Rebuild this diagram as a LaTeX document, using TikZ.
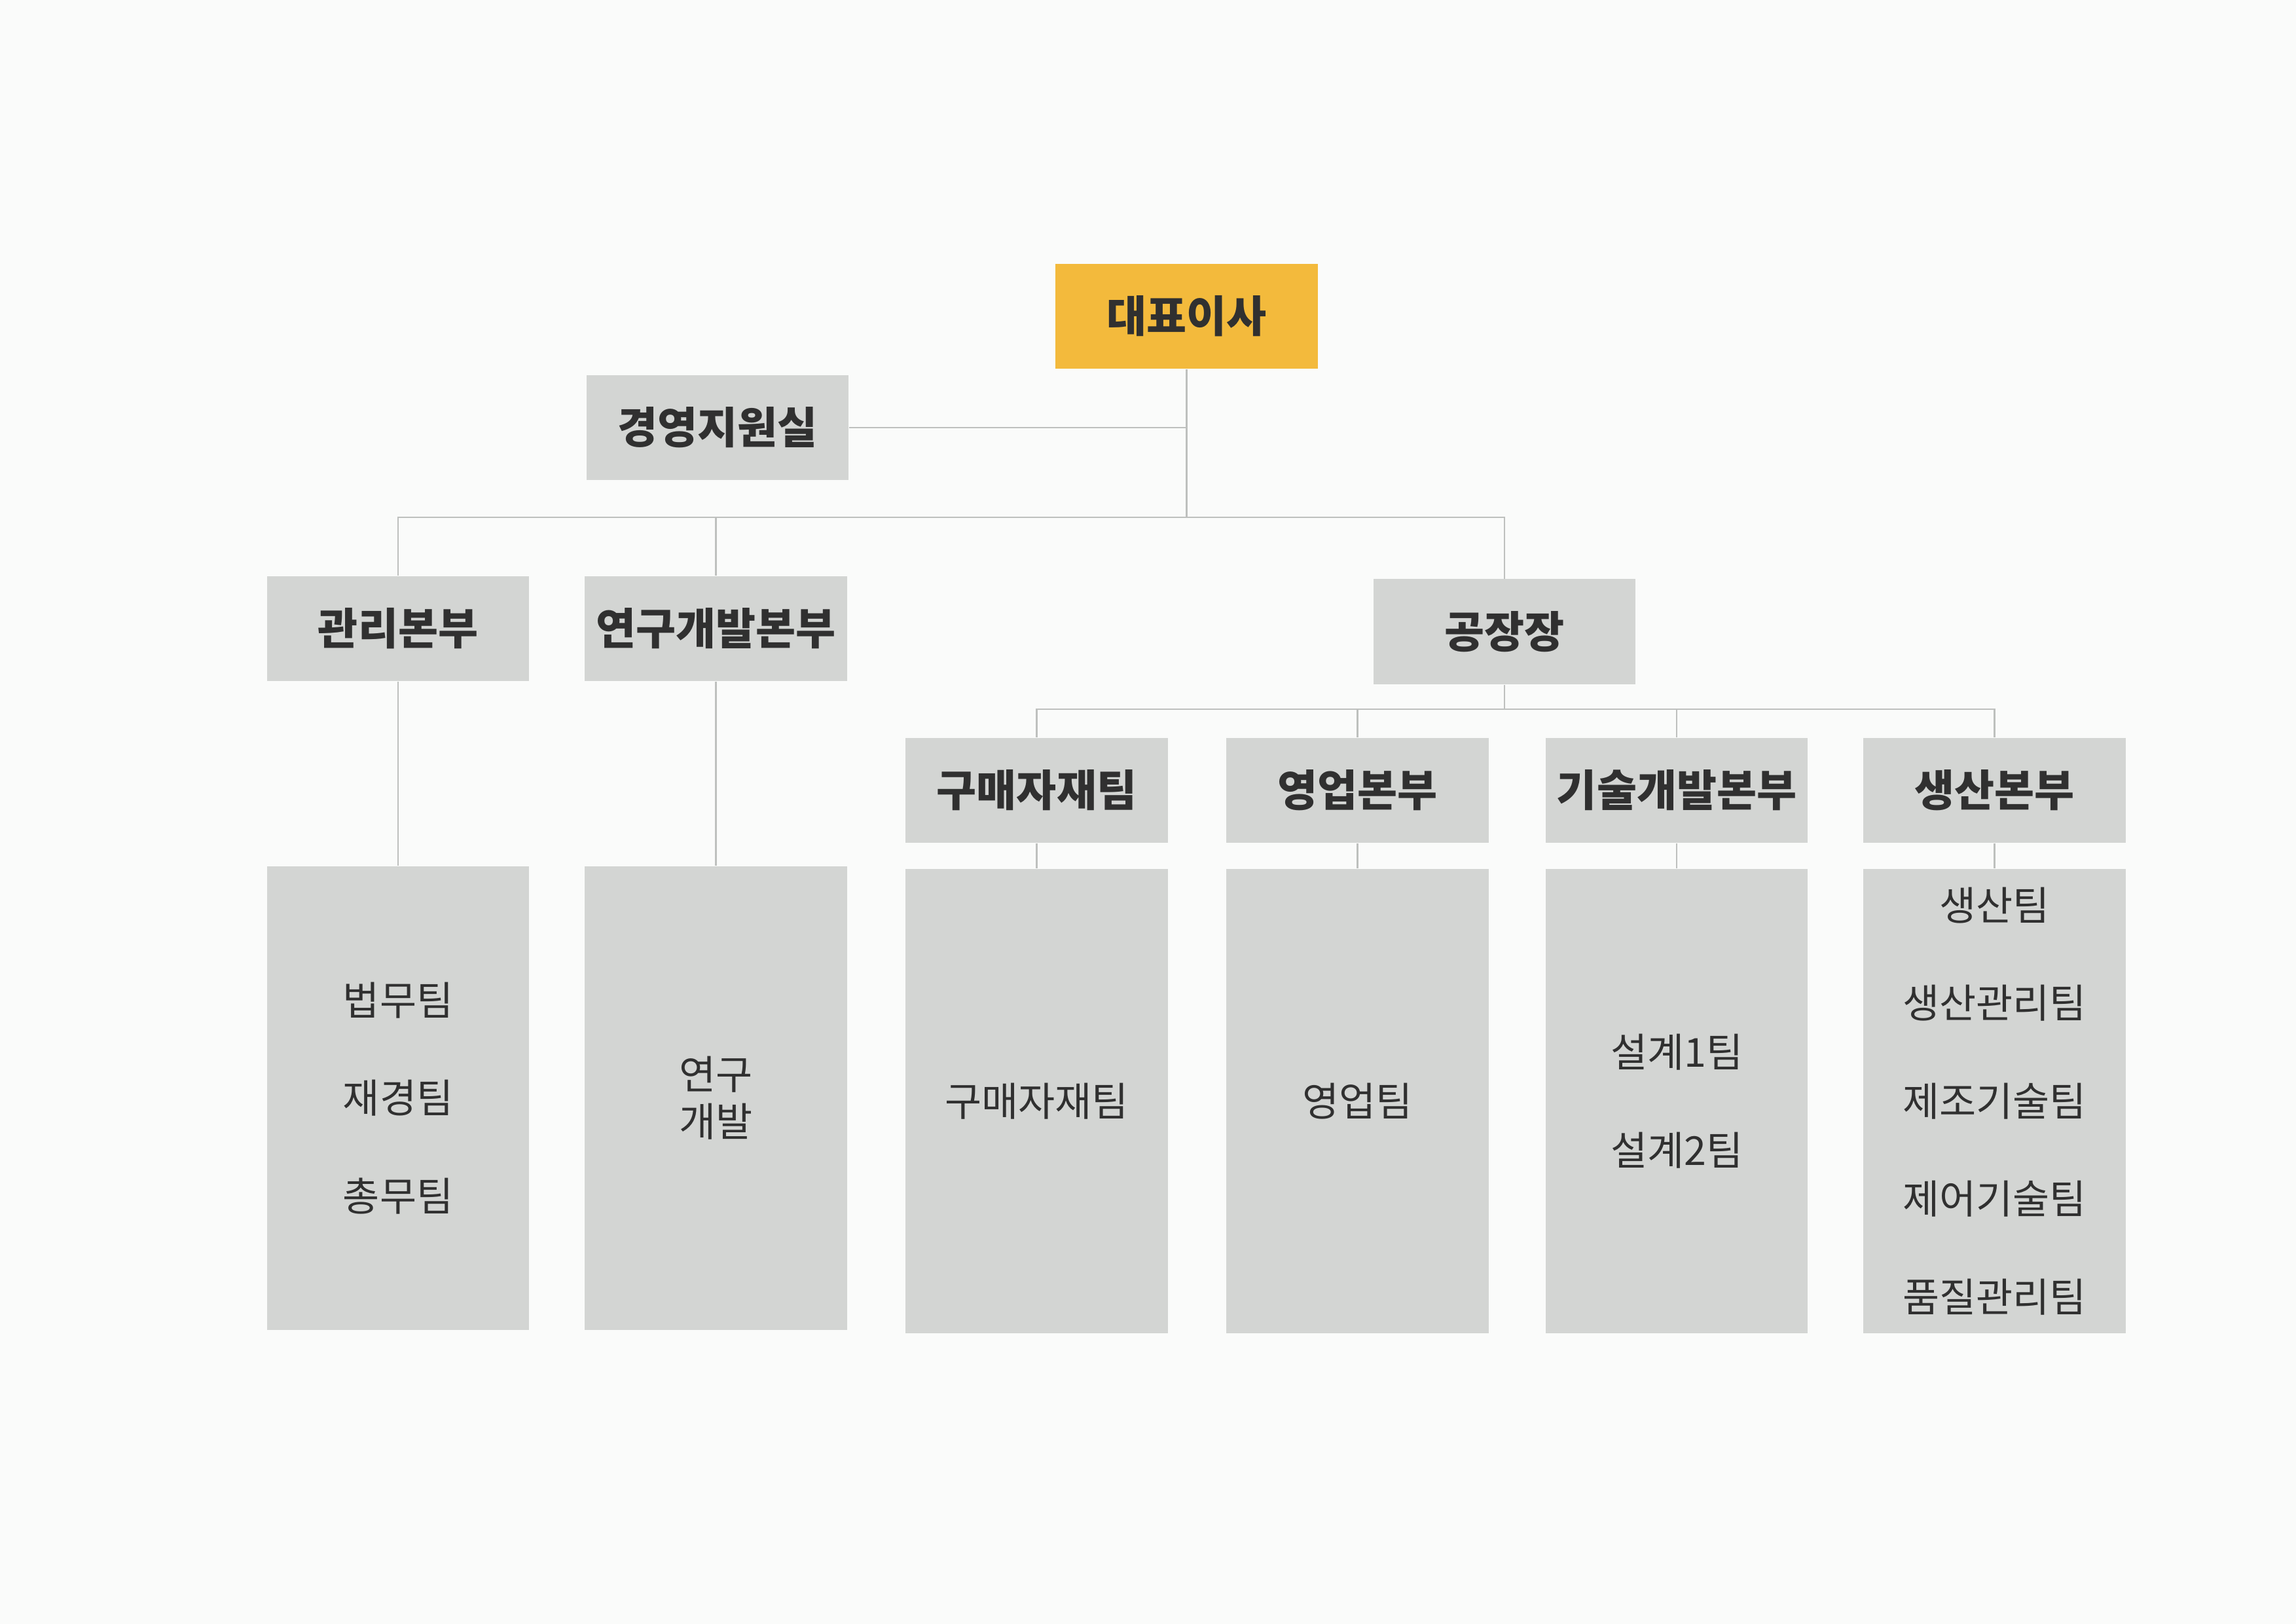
\documentclass[tikz,border=0pt]{standalone}
\usepackage{fontspec}
\setmainfont{Noto Sans CJK KR}
\usepackage{xcolor}
\definecolor{ceoyellow}{RGB}{243,186,60}
\definecolor{deptgray}{RGB}{211,213,211}
\definecolor{linkgray}{RGB}{190,192,190}
\definecolor{labelgray}{RGB}{48,48,48}
\definecolor{papergray}{RGB}{250,251,250}

\begin{document}
\begin{tikzpicture}[
  head/.style={fill=deptgray, minimum width=3.39cm, minimum height=1.36cm, inner sep=0pt, text=labelgray, font=\fontsize{16}{19}\selectfont\bfseries},
  team/.style={fill=deptgray, minimum width=3.39cm, minimum height=6cm, inner sep=0pt, align=center, text=labelgray, font=\fontsize{14.7}{17.5}\selectfont},
  link/.style={draw=linkgray, line width=0.6pt}
]
\useasboundingbox[fill=papergray] (0,0) rectangle (29.7,-21);

% top
\node[head, fill=ceoyellow] (ceo) at (15.35,-4.09) {대표이사};
\node[head] (support) at (9.28,-5.53) {경영지원실};
\coordinate (bus1) at (15.35,-6.69);

% divisions
\node[head] (admin) at (5.15,-8.13) {관리본부};
\node[head] (rnd) at (9.26,-8.13) {연구개발본부};
\node[head] (plant) at (19.46,-8.17) {공장장};
\coordinate (bus2) at (19.46,-9.17);

\node[head] (purchase) at (13.41,-10.22) {구매자재팀};
\node[head] (sales) at (17.56,-10.22) {영업본부};
\node[head] (tech) at (21.69,-10.22) {기술개발본부};
\node[head] (prod) at (25.80,-10.22) {생산본부};

% teams
\node[team] (adminteam) at (5.15,-14.20) {법무팀\\[18.5pt]재경팀\\[18.5pt]총무팀};
\node[team] (rndteam) at (9.26,-14.20) {연구\\개발};
\node[team] (purchaseteam) at (13.41,-14.24) {구매자재팀};
\node[team] (salesteam) at (17.56,-14.24) {영업팀};
\node[team] (techteam) at (21.69,-14.24) {설계1팀\\[18.5pt]설계2팀};
\node[team] (prodteam) at (25.80,-14.24) {생산팀\\[18.5pt]생산관리팀\\[18.5pt]제조기술팀\\[18.5pt]제어기술팀\\[18.5pt]품질관리팀};

% links
\draw[link] (ceo.south) -- (bus1);
\draw[link] (support.east) -- (support.east -| ceo);
\draw[link] (admin.north) |- (bus1) -| (plant.north);
\draw[link] (rnd.north) -- (rnd.north |- bus1);
\draw[link] (plant.south) -- (bus2);
\draw[link] (purchase.north) |- (bus2) -| (prod.north);
\draw[link] (sales.north) -- (sales.north |- bus2);
\draw[link] (tech.north) -- (tech.north |- bus2);
\foreach \dept in {admin,rnd,purchase,sales,tech,prod}
  \draw[link] (\dept.south) -- (\dept team.north);
\end{tikzpicture}
\end{document}
